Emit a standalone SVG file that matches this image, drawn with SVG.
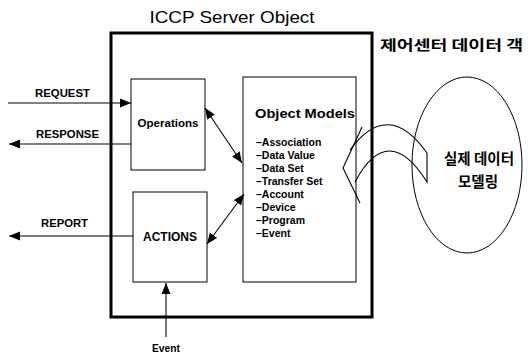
<svg xmlns="http://www.w3.org/2000/svg" width="528" height="357" viewBox="0 0 528 357">
  <defs>
    <marker id="ah" markerUnits="userSpaceOnUse" viewBox="0 0 11 10" markerWidth="11" markerHeight="10" refX="11" refY="5" orient="auto-start-reverse">
      <path d="M0,0.5 L11,5 L0,9.5 z" fill="#000"/>
    </marker>
  </defs>
  <style>
    .lbl { font-family: "Liberation Sans", Arial, sans-serif; font-weight: bold; fill: #000; }
    .ko { font-family: "Noto Sans CJK KR", "Liberation Sans", sans-serif; font-weight: bold; fill: #000; }
    .box { fill: none; stroke: #000; stroke-width: 1; }
    .conn { fill: none; stroke: #000; stroke-width: 1.1; }
  </style>
  <rect width="528" height="357" fill="#fff"/>

  <text class="lbl" x="232" y="23" font-size="16.5" text-anchor="middle" textLength="165" lengthAdjust="spacingAndGlyphs" style="font-weight:normal">ICCP Server Object</text>

  <g id="server">
    <rect x="111" y="33" width="261" height="284" fill="none" stroke="#000" stroke-width="3"/>
  </g>

  <g id="operations">
    <rect class="box" x="131" y="79" width="74" height="91"/>
    <text class="lbl" x="168" y="127" font-size="11" text-anchor="middle" textLength="61" lengthAdjust="spacingAndGlyphs">Operations</text>
  </g>

  <g id="actions">
    <rect class="box" x="133" y="192" width="74" height="90"/>
    <text class="lbl" x="170" y="241" font-size="12.5" text-anchor="middle" textLength="54" lengthAdjust="spacingAndGlyphs">ACTIONS</text>
  </g>

  <g id="object-models">
    <rect class="box" x="243" y="77" width="113" height="205"/>
    <text class="lbl" x="255" y="118" font-size="13.5" textLength="100" lengthAdjust="spacingAndGlyphs">Object Models</text>
    <g class="lbl" font-size="10.5">
      <text x="256" y="146">–Association</text>
      <text x="256" y="159">–Data Value</text>
      <text x="256" y="172">–Data Set</text>
      <text x="256" y="185">–Transfer Set</text>
      <text x="256" y="198">–Account</text>
      <text x="256" y="211">–Device</text>
      <text x="256" y="224">–Program</text>
      <text x="256" y="237">–Event</text>
    </g>
  </g>

  <g id="real-data">
    <text class="ko" x="380" y="50" font-size="13.5" textLength="143" lengthAdjust="spacingAndGlyphs">제어센터 데이터 객</text>
    <ellipse cx="467" cy="165" rx="55" ry="88" fill="none" stroke="#000" stroke-width="1"/>
    <text class="ko" x="479" y="164" font-size="14.5" text-anchor="middle">실제 데이터</text>
    <text class="ko" x="478" y="187" font-size="14.5" text-anchor="middle">모델링</text>
  </g>

  <g id="connectors">
    <line class="conn" x1="8" y1="103" x2="131" y2="103" marker-end="url(#ah)"/>
    <line class="conn" x1="131" y1="144" x2="9" y2="144" marker-end="url(#ah)"/>
    <line class="conn" x1="133" y1="236" x2="9" y2="236" marker-end="url(#ah)"/>
    <line class="conn" x1="166" y1="337" x2="166" y2="283" marker-end="url(#ah)"/>
    <line class="conn" x1="205" y1="108" x2="242" y2="163" marker-start="url(#ah)" marker-end="url(#ah)"/>
    <line class="conn" x1="207" y1="244" x2="244" y2="194" marker-start="url(#ah)" marker-end="url(#ah)"/>
    <path class="conn" d="M350,150 Q388,98 427,153 L427,182 Q388,120 355,182"/>
    <path class="conn" d="M362,127 L343,168 L360,203"/>
    <text class="lbl" x="35" y="97" font-size="10.5" textLength="55" lengthAdjust="spacingAndGlyphs">REQUEST</text>
    <text class="lbl" x="36" y="138" font-size="10.5" textLength="63" lengthAdjust="spacingAndGlyphs">RESPONSE</text>
    <text class="lbl" x="41" y="227" font-size="10.5" textLength="47" lengthAdjust="spacingAndGlyphs">REPORT</text>
    <text class="lbl" x="166" y="352" font-size="10" text-anchor="middle" textLength="28" lengthAdjust="spacingAndGlyphs">Event</text>
  </g>
</svg>
